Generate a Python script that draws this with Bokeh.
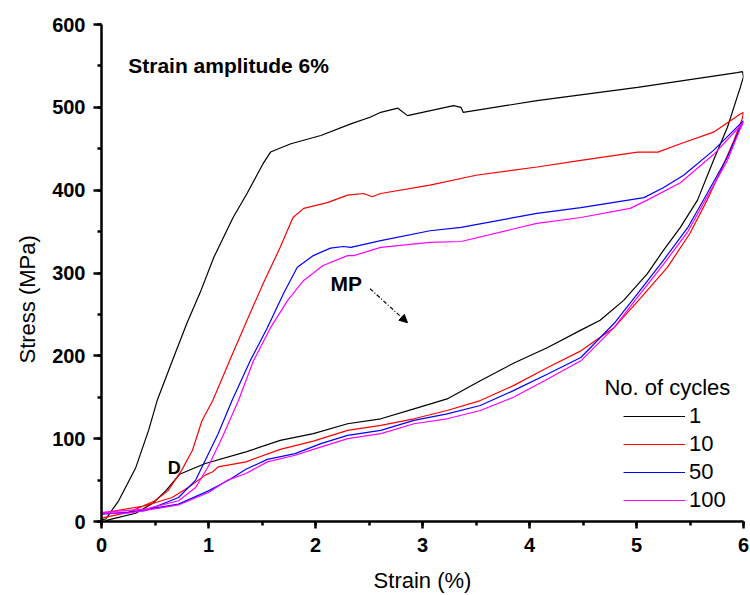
from bokeh.plotting import figure
from bokeh.models import (Range1d, Label, Legend, LegendItem, Arrow, NormalHead,
                          SingleIntervalTicker, Title)
from bokeh.embed import file_html
from bokeh.resources import INLINE

# ---- data (strain %, stress MPa), each cycle: loading then unloading ----
strain_1 = [0.00, 0.04, 0.16, 0.32, 0.44, 0.52, 0.68, 0.80, 0.93, 1.05, 1.23, 1.36, 1.51, 1.58,
            1.77, 2.05, 2.33, 2.51, 2.61, 2.77, 2.86, 3.00, 3.29, 3.36, 3.38, 4.07, 5.01, 5.94, 5.99,
            6.00, 5.97, 5.94, 5.85, 5.72, 5.57, 5.41, 5.25, 5.10, 4.88, 4.66, 4.48, 4.17, 3.85,
            3.54, 3.23, 2.92, 2.61, 2.30, 1.98, 1.67, 1.35, 0.97, 0.73, 0.60, 0.48, 0.32, 0.13, 0.04]
stress_1 = [2, 3, 25, 65, 110, 146, 200, 240, 279, 319, 367, 396, 432, 446,
            456, 466, 480, 488, 494, 499, 490, 494, 502, 500, 494, 508, 524, 542, 543,
            537, 524, 512, 476, 436, 388, 355, 327, 299, 267, 243, 231, 210, 191,
            170, 148, 136, 124, 118, 106, 98, 84, 70, 57, 37, 22, 10, 4, 1]

strain_10 = [0.00, 0.25, 0.50, 0.62, 0.75, 0.85, 0.94, 1.04, 1.21, 1.36, 1.51, 1.67, 1.79, 1.89,
             2.11, 2.30, 2.45, 2.53, 2.61, 3.07, 3.50, 4.07, 4.48, 5.01, 5.20, 5.41, 5.72, 5.97, 6.00,
             5.99, 5.91, 5.79, 5.66, 5.50, 5.29, 5.04, 4.79, 4.48, 4.17, 3.85, 3.54, 3.23, 2.92,
             2.61, 2.30, 1.98, 1.67, 1.35, 1.09, 1.04, 0.97, 0.81, 0.66, 0.41, 0.13, 0.00]
stress_10 = [4, 11, 25, 37, 62, 86, 122, 146, 198, 243, 287, 331, 367, 378,
             385, 394, 396, 392, 396, 406, 418, 428, 436, 446, 446, 456, 470, 492, 494,
             487, 460, 424, 388, 348, 307, 270, 234, 206, 186, 164, 146, 134, 124,
             116, 110, 97, 87, 72, 66, 60, 56, 41, 29, 19, 13, 10]

strain_50 = [0.00, 0.41, 0.72, 0.88, 0.97, 1.09, 1.22, 1.39, 1.55, 1.70, 1.83, 1.98, 2.14, 2.26,
             2.33, 2.61, 3.07, 3.36, 4.07, 4.48, 5.07, 5.25, 5.44, 5.72, 6.00,
             5.97, 5.85, 5.66, 5.48, 5.25, 5.01, 4.79, 4.48, 4.17, 3.85, 3.54, 3.23, 2.92,
             2.61, 2.30, 2.05, 1.81, 1.55, 1.35, 1.19, 1.00, 0.72, 0.25, 0.00]
stress_50 = [9, 13, 29, 50, 74, 106, 146, 194, 234, 275, 307, 321, 330, 332,
             331, 339, 351, 355, 372, 379, 391, 403, 418, 448, 484,
             476, 440, 396, 355, 315, 275, 239, 198, 178, 158, 140, 130, 122,
             110, 104, 94, 82, 75, 63, 50, 37, 21, 11, 9]

strain_100 = [0.00, 0.41, 0.72, 0.88, 1.00, 1.13, 1.28, 1.42, 1.58, 1.74, 1.89, 2.07, 2.30, 2.36,
              2.61, 3.07, 3.36, 4.07, 4.48, 4.94, 5.10, 5.41, 5.72, 6.00,
              5.97, 5.85, 5.66, 5.48, 5.25, 5.01, 4.79, 4.48, 4.17, 3.85, 3.54, 3.23, 2.92,
              2.61, 2.30, 1.98, 1.81, 1.55, 1.35, 1.18, 1.00, 0.72, 0.25, 0.00]
stress_100 = [11, 15, 25, 41, 67, 102, 146, 194, 234, 267, 291, 309, 321, 321,
              331, 337, 338, 360, 367, 378, 388, 409, 443, 482,
              474, 436, 392, 350, 310, 271, 234, 194, 172, 150, 134, 124, 118,
              106, 100, 87, 80, 72, 58, 50, 35, 20, 10, 10]

cycles = ["1", "10", "50", "100"]
series = [(strain_1, stress_1), (strain_10, stress_10), (strain_50, stress_50), (strain_100, stress_100)]
colors = ["#000000", "#ff0000", "#0000ff", "#ff00ff"]

FONT = "Liberation Sans"

p = figure(width=750, height=595, x_range=Range1d(0, 6), y_range=Range1d(0, 600),
           output_backend="svg", toolbar_location=None,
           min_border_left=101, min_border_right=7, min_border_top=24, min_border_bottom=74,
           x_axis_label="Strain (%)")
p.outline_line_color = None
p.grid.visible = False
p.background_fill_color = "white"
p.border_fill_color = "white"

p.xaxis.ticker = SingleIntervalTicker(interval=1, num_minor_ticks=2)
p.yaxis.ticker = SingleIntervalTicker(interval=100, num_minor_ticks=2)

for ax in (p.xaxis[0], p.yaxis[0]):
    ax.axis_line_width = 2.5
    ax.major_tick_line_width = 2.5
    ax.minor_tick_line_width = 2.5
    ax.major_tick_in = 0
    ax.minor_tick_in = 0
    ax.major_label_text_font = FONT
    ax.major_label_text_font_style = "bold"
    ax.major_label_text_font_size = "20px"
    ax.major_label_text_color = "black"
    ax.axis_label_text_font = FONT
    ax.axis_label_text_font_style = "normal"
    ax.axis_label_text_font_size = "22px"
    ax.axis_label_text_color = "black"

p.xaxis.major_tick_out = 7
p.xaxis.minor_tick_out = 4
p.xaxis.major_label_standoff = 9
p.xaxis.axis_label_standoff = 13
p.yaxis.major_tick_out = 8
p.yaxis.minor_tick_out = 4
p.yaxis.major_label_standoff = 8

# y-axis title (placed as a side title so it can sit slightly below centre, as in the original)
ytitle = Title(text="Stress (MPa)", align="left", offset=158, standoff=20,
               text_font=FONT, text_font_size="22px", text_font_style="normal",
               text_color="black")
p.add_layout(ytitle, "left")

items = []
for name, (xs, ys), c in zip(cycles, series, colors):
    r = p.line(xs, ys, line_color=c, line_width=1.2)
    items.append(LegendItem(label=name, renderers=[r]))

leg = Legend(items=items, location=(522, 7), padding=0, spacing=0, margin=0,
             glyph_width=62, glyph_height=28, label_height=28, label_standoff=4,
             background_fill_alpha=0, border_line_alpha=0,
             label_text_font=FONT, label_text_font_size="22px", label_text_color="black")
p.add_layout(leg)

p.add_layout(Label(x=4.70, y=162, text="No. of cycles", text_font=FONT, text_font_size="22px",
                   text_baseline="middle", text_align="left", text_color="black"))
p.add_layout(Label(x=0.25, y=550, text="Strain amplitude 6%", text_font=FONT, text_font_size="21px",
                   text_font_style="bold", text_baseline="middle", text_color="black"))
p.add_layout(Label(x=2.14, y=287, text="MP", text_font=FONT, text_font_size="21px",
                   text_font_style="bold", text_baseline="middle", text_color="black"))
p.add_layout(Label(x=0.62, y=65, text="D", text_font=FONT, text_font_size="18px",
                   text_font_style="bold", text_baseline="middle", text_color="black"))
p.add_layout(Arrow(x_start=2.51, y_start=281, x_end=2.86, y_end=240,
                   line_color="black", line_width=1.2, line_dash="4 2 1 2",
                   end=NormalHead(size=8, fill_color="black", line_color="black")))

open("out.html", "w").write(file_html(p, INLINE))
